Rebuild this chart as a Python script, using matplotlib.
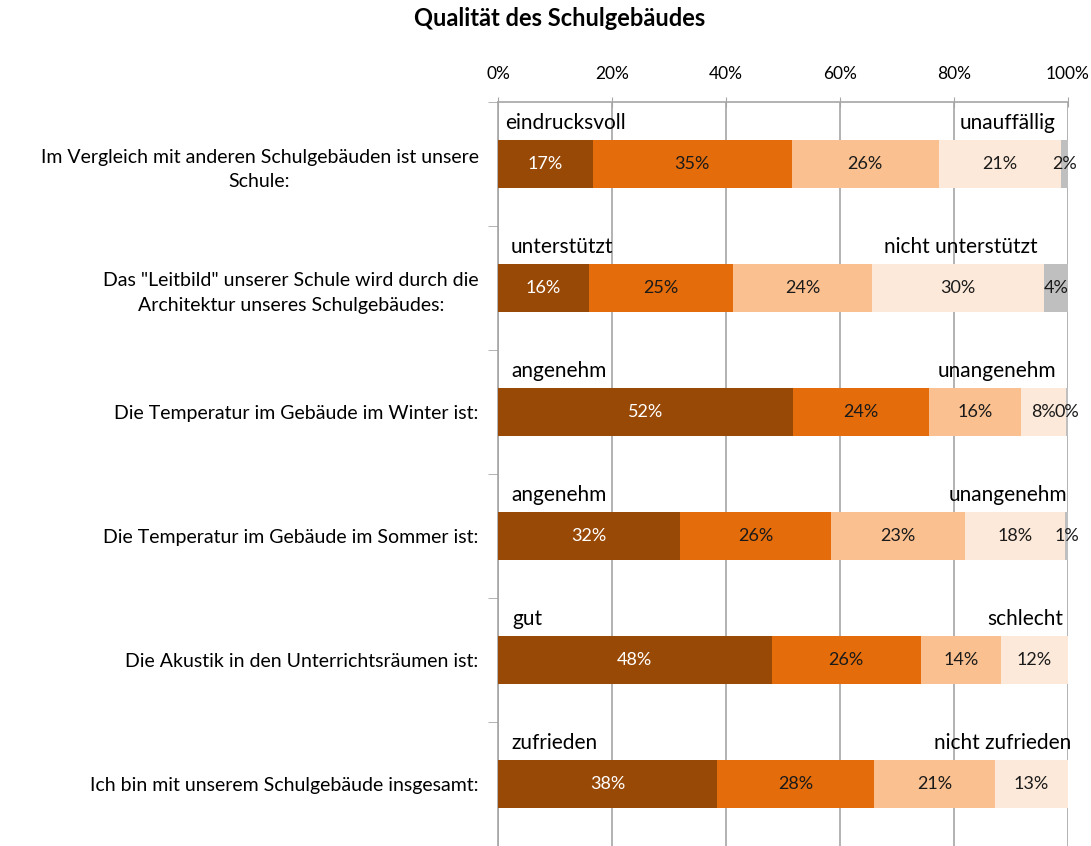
import matplotlib
matplotlib.use("Agg")
import matplotlib.pyplot as plt

plt.rcParams['font.family'] = ['Lato', 'DejaVu Sans']

title = "Qualität des Schulgebäudes"

questions = [
    "Im Vergleich mit anderen Schulgebäuden ist unsere\nSchule:",
    "Das \"Leitbild\" unserer Schule wird durch die\nArchitektur unseres Schulgebäudes:",
    "Die Temperatur im Gebäude im Winter ist:",
    "Die Temperatur im Gebäude im Sommer ist:",
    "Die Akustik in den Unterrichtsräumen ist:",
    "Ich bin mit unserem Schulgebäude insgesamt:",
]
left_labels = ["eindrucksvoll", "unterstützt", "angenehm", "angenehm", "gut", "zufrieden"]
right_labels = ["unauffällig", "nicht unterstützt", "unangenehm", "unangenehm",
                "schlecht", "nicht zufrieden"]

# shares per answer step (1 = best ... 4 = worst, 5 = no answer)
s1 = [16.7, 15.9, 51.7, 32.0, 48.0, 38.4]
s2 = [34.8, 25.3, 23.9, 26.5, 26.2, 27.6]
s3 = [25.8, 24.5, 16.1, 23.4, 14.0, 21.2]
s4 = [21.4, 30.1, 8.0, 17.6, 11.8, 12.8]
s5 = [1.3, 4.2, 0.3, 0.5, 0.0, 0.0]

# printed labels as in the original
t1 = ["17%", "16%", "52%", "32%", "48%", "38%"]
t2 = ["35%", "25%", "24%", "26%", "26%", "28%"]
t3 = ["26%", "24%", "16%", "23%", "14%", "21%"]
t4 = ["21%", "30%", "8%", "18%", "12%", "13%"]
t5 = ["2%", "4%", "0%", "1%", "", ""]

colors = ["#994906", "#E46C0A", "#FAC090", "#FDE9D9", "#BFBFBF"]
text_colors = ["white", "#1a1a1a", "#1a1a1a", "#1a1a1a", "#1a1a1a"]

# where the anchor words sit (percent of axis)
left_pos = [1.2, 2.3, 2.3, 2.3, 2.6, 2.3]
right_pos = [97.8, 94.7, 98.0, 99.8, 99.2, 100.6]

fig = plt.figure(figsize=(10.91, 8.46), dpi=100)
ax = fig.add_axes([498 / 1091, 0, 570 / 1091, 744 / 846])

grey = "#A6A6A6"
rows = list(range(len(questions)))
series = [s1, s2, s3, s4, s5]
texts = [t1, t2, t3, t4, t5]
left = [0.0] * len(rows)
for vals, labs, c, tc in zip(series, texts, colors, text_colors):
    ax.barh(rows, vals, left=left, height=0.39, color=c, zorder=3)
    for i in rows:
        if labs[i]:
            ax.text(left[i] + vals[i] / 2, i, labs[i], ha="center", va="center",
                    fontsize=13, color=tc, zorder=4)
    left = [a + b for a, b in zip(left, vals)]

for i in rows:
    ax.text(left_pos[i], i - 0.33, left_labels[i], ha="left", va="center", fontsize=15)
    ax.text(right_pos[i], i - 0.33, right_labels[i], ha="right", va="center", fontsize=15)

ax.set_xlim(0, 100)
ax.set_ylim(len(rows) - 0.5, -0.5)
ax.xaxis.tick_top()
ax.set_xticks([0, 20, 40, 60, 80, 100])
ax.set_xticklabels(["0%", "20%", "40%", "60%", "80%", "100%"], fontsize=12.5)
ax.tick_params(axis="x", direction="inout", length=7, color=grey, pad=11)
ax.xaxis.grid(True, color=grey, linewidth=1.2, zorder=0)

ax.set_yticks(rows)
ax.set_yticklabels(questions, fontsize=14, ha="right")
for lab in ax.get_yticklabels():
    lab.set_multialignment("center")
    lab.set_linespacing(1.55)
ax.tick_params(axis="y", length=0, pad=14)
ax.set_yticks([r - 0.5 for r in rows] + [len(rows) - 0.5], minor=True)
ax.tick_params(axis="y", which="minor", length=7, color=grey, direction="out")

for side in ["right", "bottom"]:
    ax.spines[side].set_visible(False)
ax.spines["top"].set_color(grey)
ax.spines["left"].set_color(grey)
ax.spines["top"].set_linewidth(1.2)
ax.spines["left"].set_linewidth(1.2)
ax.set_axisbelow(True)

fig.text(560 / 1091, 1 - 19 / 846, title, ha="center", va="center",
         fontsize=17, fontweight="bold")

fig.savefig("out.png", dpi=100)
